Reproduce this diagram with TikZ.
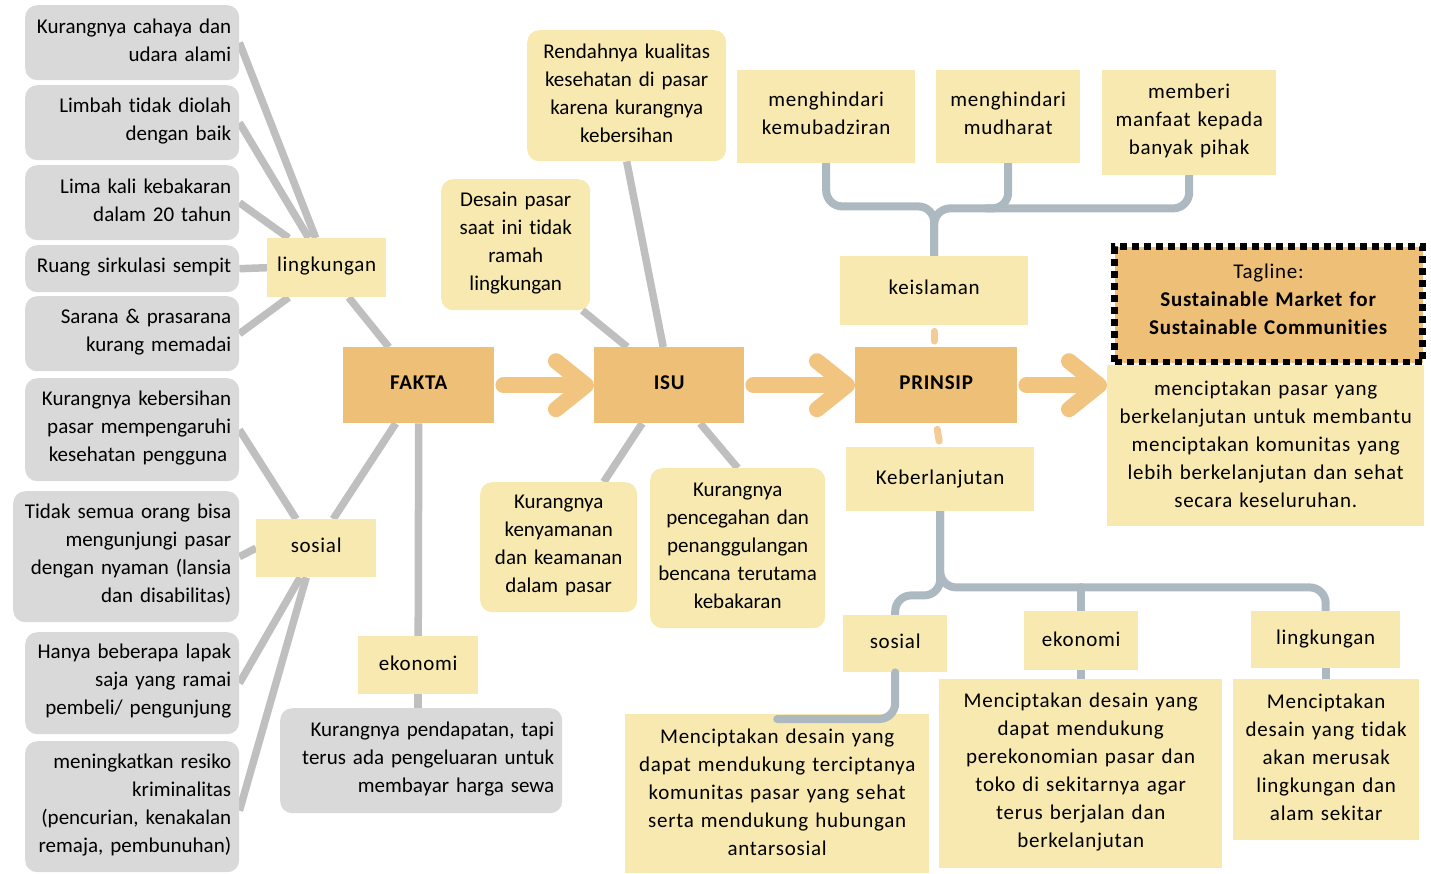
\documentclass[tikz,border=0pt]{standalone}
\usepackage{fontspec}
\setmainfont{Carlito}[Ligatures=NoCommon]
\newfontfamily\trk{Carlito}[LetterSpace=3.5,Ligatures=NoCommon]
\usetikzlibrary{backgrounds,calc}
\definecolor{yel}{HTML}{F7E9AF}
\definecolor{orn}{HTML}{EEC077}
\definecolor{arrC}{HTML}{F1C480}
\definecolor{lorn}{HTML}{F2CB95}
\definecolor{gbx}{HTML}{D9D9D9}
\definecolor{gln}{HTML}{BFBFBF}
\definecolor{blg}{HTML}{ADB9C1}
\newcommand\bx[9][4pt]{%
  \pgfmathsetmacro\bxw{#6-#4}%
  \pgfmathsetmacro\bxh{#7-#5}%
  \pgfmathsetmacro\bxt{#6-#4-16}%
  \node[#3,anchor=north west,inner xsep=8pt,inner ysep=0pt,minimum width=\bxw pt,minimum height=\bxh pt,text width=\bxt pt,align=#8] (#2) at (#4,#5) {#9\par\nointerlineskip\vbox to #1{}};}
\begin{document}
\begin{tikzpicture}[x=1pt,y=-1pt,
  gbox/.style={fill=gbx,rounded corners=12pt,font=\fontsize{21}{28}\selectfont},
  yrbox/.style={fill=yel,rounded corners=12pt,font=\fontsize{21}{28}\selectfont},
  ybox/.style={fill=yel,font=\trk\fontsize{21}{28}\selectfont},
  obox/.style={fill=orn,font=\trk\bfseries\fontsize{21}{28}\selectfont},
  tagbox/.style={fill=orn,draw=black,line width=7pt,dash pattern=on 7pt off 5pt,font=\trk\fontsize{21}{28}\selectfont},
  grline/.style={draw=gln,line width=7.5pt},
  blline/.style={draw=blg,line width=8pt,rounded corners=16pt,line cap=round},
  orline/.style={draw=lorn,line width=7pt,line cap=round,shorten <=6pt,shorten >=6pt},
  oarr/.style={draw=arrC,line width=16pt,line cap=round,line join=round}]
\useasboundingbox (0,0) rectangle (1431,873);
% FAKTA side
\bx{k1}{gbox}{25}{5}{239}{80}{right}{Kurangnya cahaya dan\\udara alami}
\bx{k2}{gbox}{25}{85}{239}{160}{right}{Limbah tidak diolah\\dengan baik}
\bx{k3}{gbox}{25}{165}{239}{240}{right}{Lima kali kebakaran\\dalam 20 tahun}
\bx{k4}{gbox}{25}{245}{239}{292}{right}{Ruang sirkulasi sempit}
\bx{k5}{gbox}{25}{296}{239}{371}{right}{Sarana \& prasarana\\kurang memadai}
\bx{k6}{gbox}{25}{378}{239}{481}{right}{Kurangnya kebersihan\\pasar mempengaruhi\\kesehatan pengguna\hspace*{4pt}}
\bx{k7}{gbox}{13}{491}{239}{622}{right}{Tidak semua orang bisa\\mengunjungi pasar\\dengan nyaman (lansia\\dan disabilitas)}
\bx{k8}{gbox}{25}{632}{239}{734}{right}{Hanya beberapa lapak\\saja yang ramai\\pembeli/ pengunjung}
\bx{k9}{gbox}{25}{741}{239}{872}{right}{meningkatkan resiko\\kriminalitas\\(pencurian, kenakalan\\remaja, pembunuhan)}
\bx{lingk}{ybox}{267}{238}{386}{297}{center}{lingkungan}
\bx[6pt]{sos}{ybox}{256}{519}{376}{577}{center}{sosial}
\bx{ekon}{ybox}{358}{636}{478}{694}{center}{ekonomi}
\bx{kp}{gbox}{280}{708}{562}{813}{right}{Kurangnya pendapatan, tapi\\terus ada pengeluaran untuk\\membayar harga sewa}
\bx[6pt]{fakta}{obox}{343}{347}{494}{423}{center}{FAKTA}
\bx[6pt]{isu}{obox}{594}{347}{744}{423}{center}{ISU}
\bx[6pt]{prin}{obox}{855}{347}{1017}{423}{center}{PRINSIP}
% ISU side
\bx{desain}{yrbox}{441}{179}{590}{310}{center}{Desain pasar\\saat ini tidak\\ramah\\lingkungan}
\bx{rend}{yrbox}{527}{30}{726}{161}{center}{Rendahnya kualitas\\kesehatan di pasar\\karena kurangnya\\kebersihan}
\bx{keny}{yrbox}{480}{482}{637}{612}{center}{Kurangnya\\kenyamanan\\dan keamanan\\dalam pasar}
\bx{penc}{yrbox}{650}{468}{825}{628}{center}{Kurangnya\\pencegahan dan\\penanggulangan\\bencana terutama\\kebakaran}
% PRINSIP side
\bx[6pt]{mk}{ybox}{737}{70}{915}{163}{center}{menghindari\\kemubadziran}
\bx[6pt]{mm}{ybox}{936}{70}{1080}{163}{center}{menghindari\\mudharat}
\bx{mb}{ybox}{1102}{70}{1276}{175}{center}{memberi\\manfaat kepada\\banyak pihak}
\bx[6pt]{keis}{ybox}{840}{256}{1028}{325}{center}{keislaman}
\bx[11pt]{tag}{tagbox}{1111}{243}{1419}{359}{center}{Tagline:\\\textbf{Sustainable Market for}\\\textbf{Sustainable Communities}}
\bx[2pt]{mencip}{ybox}{1107}{365}{1424}{526}{center}{menciptakan pasar yang\\berkelanjutan untuk membantu\\menciptakan komunitas yang\\lebih berkelanjutan dan sehat\\secara keseluruhan.}
\bx[0pt]{keb}{ybox}{846}{447}{1034}{511}{center}{Keberlanjutan}
\bx{sosR}{ybox}{843}{615}{947}{672}{center}{sosial}
\bx[2pt]{ekR}{ybox}{1024}{611}{1138}{670}{center}{ekonomi}
\bx[2pt]{lingR}{ybox}{1251}{611}{1400}{668}{center}{lingkungan}
\bx[2pt]{sosD}{ybox}{625}{714}{929}{873}{center}{Menciptakan desain yang\\dapat mendukung terciptanya\\komunitas pasar yang sehat\\serta mendukung hubungan\\antarsosial}
\bx{ekD}{ybox}{939}{679}{1222}{868}{center}{Menciptakan desain yang\\dapat mendukung\\perekonomian pasar dan\\toko di sekitarnya agar\\terus berjalan dan\\berkelanjutan}
\bx{lingD}{ybox}{1233}{679}{1419}{840}{center}{Menciptakan\\desain yang tidak\\akan merusak\\lingkungan dan\\alam sekitar}
\coordinate (t3) at (mencip.west |- prin.east);
\begin{scope}[on background layer]
  % lingkungan
  \draw[grline] (k1.east) -- ([xshift=-11pt]lingk.north);
  \draw[grline] (k2.east) -- ([xshift=-18pt]lingk.north);
  \draw[grline] (k3.east) -- ([xshift=-38pt]lingk.north);
  \draw[grline] (k4.east) -- (lingk.west);
  \draw[grline] (k5.east) -- ([xshift=-38pt]lingk.south);
  \draw[grline] ([xshift=22pt]lingk.south) -- ([xshift=-30pt]fakta.north);
  % sosial
  \draw[grline] (k6.east) -- ([xshift=-20pt]sos.north);
  \draw[grline] (k7.east) -- (sos.west);
  \draw[grline] (k8.east) -- ([xshift=-16pt]sos.south);
  \draw[grline] ([yshift=-4pt]k9.east) -- ([xshift=-10pt]sos.south);
  \draw[grline] ([xshift=17pt]sos.north) -- ([xshift=-23pt]fakta.south);
  % ekonomi
  \draw[grline] (fakta.south) -- (ekon.north);
  \draw[grline] (ekon.south) -- (ekon.south |- kp.north);
  % ISU
  \draw[grline] ([xshift=-8pt]desain.south east) -- ([xshift=-42pt]isu.north);
  \draw[grline] (rend.south) -- ([xshift=-6pt]isu.north);
  \draw[grline] ([xshift=-27pt]isu.south) -- ([xshift=45pt]keny.north);
  \draw[grline] ([xshift=31pt]isu.south) -- (penc.north);
  % arrows
  \draw[oarr] ([xshift=9pt]fakta.east) -- ([xshift=-12pt]isu.west);
  \draw[oarr] ([xshift=-38pt,yshift=24pt]isu.west) -- ([xshift=-8pt]isu.west) -- ([xshift=-38pt,yshift=-24pt]isu.west);
  \draw[oarr] ([xshift=9pt]isu.east) -- ([xshift=-12pt]prin.west);
  \draw[oarr] ([xshift=-38pt,yshift=24pt]prin.west) -- ([xshift=-8pt]prin.west) -- ([xshift=-38pt,yshift=-24pt]prin.west);
  \draw[oarr] ([xshift=9pt]prin.east) -- ([xshift=-12pt]t3);
  \draw[oarr] ([xshift=-38pt,yshift=24pt]t3) -- ([xshift=-8pt]t3) -- ([xshift=-38pt,yshift=-24pt]t3);
  % prinsip links
  \draw[orline] (keis.south) -- (keis.south |- prin.north);
  \draw[orline] (prin.south) -- (keb.north);
  \draw[blline] (mk.south) -- ++(0,43) -| (keis.north);
  \draw[blline] (mb.south) -- ++(0,33) -| (keis.north);
  \draw[blline] (mm.south) -- ++(0,45) -- ++(-22,0);
  \draw[blline] (keb.south) -- ++(0,76) -| (lingR.north);
  \draw[blline] (keb.south) -- ++(0,84) -| (sosR.north);
  \draw[blline] (ekR.north) -- ++(0,-24);
  \draw[blline] (ekR.south) -- (ekR.south |- ekD.north);
  \draw[blline] (lingR.south) -- (lingR.south |- lingD.north);
\end{scope}
\draw[blline] (sosR.south) |- ([yshift=-5pt]sosD.north);
\end{tikzpicture}
\end{document}
